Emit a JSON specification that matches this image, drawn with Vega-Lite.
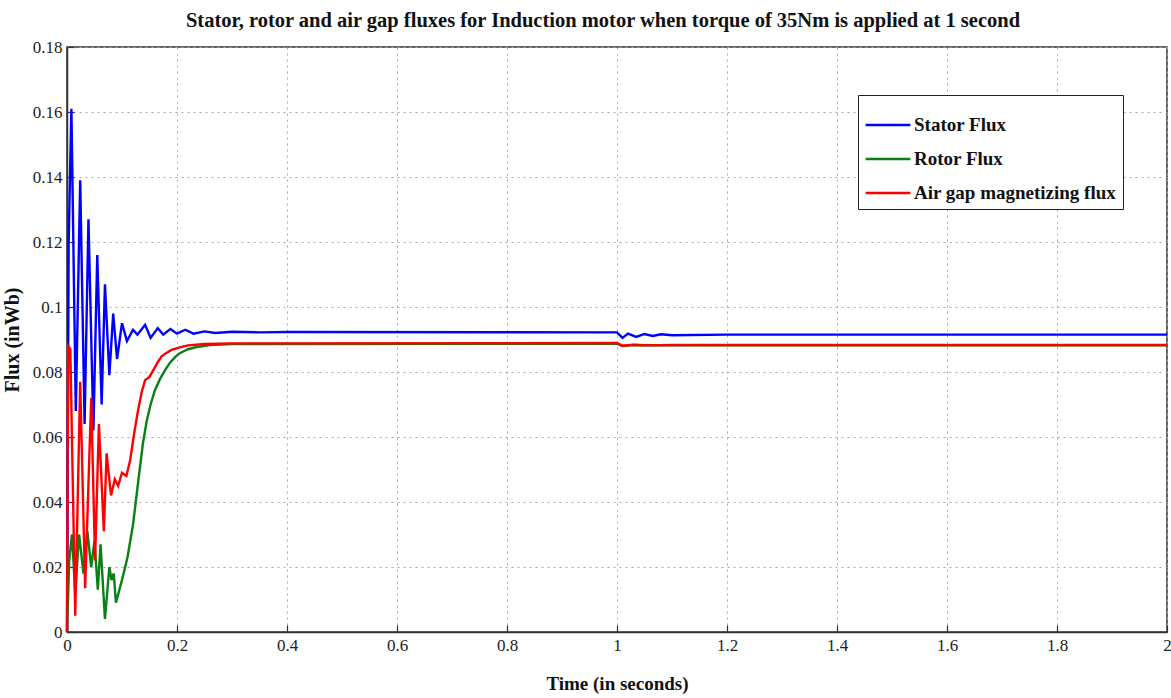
{
  "$schema": "https://vega.github.io/schema/vega-lite/v6.json",
  "width": 1100,
  "height": 585,
  "autosize": {"type": "none"},
  "padding": {"left": 67, "top": 47, "right": 4, "bottom": 66},
  "background": "white",
  "title": {
    "text": "Stator, rotor and air gap fluxes for Induction motor when torque of 35Nm is applied at 1 second",
    "font": "Liberation Serif",
    "fontSize": 20.5,
    "fontWeight": "bold",
    "color": "#111",
    "offset": 7,
    "dx": -14
  },
  "config": {
    "view": {"stroke": "#333", "strokeWidth": 1.5},
    "axis": {
      "labelFont": "Liberation Serif",
      "labelFontSize": 17,
      "labelColor": "#222",
      "titleFont": "Liberation Serif",
      "titleFontSize": 19,
      "titleFontWeight": "bold",
      "titleColor": "#111",
      "grid": true,
      "gridColor": "#a8a8a8",
      "gridDash": [2, 4],
      "gridWidth": 1,
      "domainColor": "#333",
      "domainWidth": 1.5,
      "tickColor": "#333",
      "tickSize": -7,
      "tickWidth": 1.2
    }
  },
  "data": {
    "values": [
      {"series": "Stator Flux", "t": 0.0, "flux": 0.0},
      {"series": "Stator Flux", "t": 0.003, "flux": 0.12},
      {"series": "Stator Flux", "t": 0.008, "flux": 0.161},
      {"series": "Stator Flux", "t": 0.016, "flux": 0.068},
      {"series": "Stator Flux", "t": 0.024, "flux": 0.139},
      {"series": "Stator Flux", "t": 0.032, "flux": 0.064},
      {"series": "Stator Flux", "t": 0.039, "flux": 0.127},
      {"series": "Stator Flux", "t": 0.048, "flux": 0.062},
      {"series": "Stator Flux", "t": 0.055, "flux": 0.116},
      {"series": "Stator Flux", "t": 0.063, "flux": 0.07},
      {"series": "Stator Flux", "t": 0.069, "flux": 0.107},
      {"series": "Stator Flux", "t": 0.077, "flux": 0.079},
      {"series": "Stator Flux", "t": 0.084, "flux": 0.098},
      {"series": "Stator Flux", "t": 0.091, "flux": 0.084},
      {"series": "Stator Flux", "t": 0.1, "flux": 0.095},
      {"series": "Stator Flux", "t": 0.109, "flux": 0.0895},
      {"series": "Stator Flux", "t": 0.12, "flux": 0.093},
      {"series": "Stator Flux", "t": 0.128, "flux": 0.0915},
      {"series": "Stator Flux", "t": 0.142, "flux": 0.0945},
      {"series": "Stator Flux", "t": 0.152, "flux": 0.0905},
      {"series": "Stator Flux", "t": 0.165, "flux": 0.0935},
      {"series": "Stator Flux", "t": 0.175, "flux": 0.0915},
      {"series": "Stator Flux", "t": 0.188, "flux": 0.0932},
      {"series": "Stator Flux", "t": 0.2, "flux": 0.0918},
      {"series": "Stator Flux", "t": 0.215, "flux": 0.093},
      {"series": "Stator Flux", "t": 0.23, "flux": 0.0918},
      {"series": "Stator Flux", "t": 0.25, "flux": 0.0925},
      {"series": "Stator Flux", "t": 0.27, "flux": 0.092},
      {"series": "Stator Flux", "t": 0.3, "flux": 0.0924},
      {"series": "Stator Flux", "t": 0.35, "flux": 0.0922},
      {"series": "Stator Flux", "t": 0.4, "flux": 0.0923},
      {"series": "Stator Flux", "t": 1.0, "flux": 0.0922},
      {"series": "Stator Flux", "t": 1.01, "flux": 0.0905},
      {"series": "Stator Flux", "t": 1.02, "flux": 0.0918},
      {"series": "Stator Flux", "t": 1.035, "flux": 0.0908},
      {"series": "Stator Flux", "t": 1.05, "flux": 0.0917},
      {"series": "Stator Flux", "t": 1.065, "flux": 0.0911},
      {"series": "Stator Flux", "t": 1.08, "flux": 0.0916},
      {"series": "Stator Flux", "t": 1.1, "flux": 0.0913},
      {"series": "Stator Flux", "t": 1.2, "flux": 0.0915},
      {"series": "Stator Flux", "t": 2.0, "flux": 0.0915},

      {"series": "Rotor Flux", "t": 0.0, "flux": 0.0},
      {"series": "Rotor Flux", "t": 0.004, "flux": 0.022},
      {"series": "Rotor Flux", "t": 0.009, "flux": 0.03},
      {"series": "Rotor Flux", "t": 0.015, "flux": 0.012},
      {"series": "Rotor Flux", "t": 0.022, "flux": 0.03},
      {"series": "Rotor Flux", "t": 0.03, "flux": 0.018},
      {"series": "Rotor Flux", "t": 0.037, "flux": 0.031},
      {"series": "Rotor Flux", "t": 0.044, "flux": 0.02},
      {"series": "Rotor Flux", "t": 0.05, "flux": 0.028},
      {"series": "Rotor Flux", "t": 0.056, "flux": 0.013},
      {"series": "Rotor Flux", "t": 0.061, "flux": 0.027},
      {"series": "Rotor Flux", "t": 0.069, "flux": 0.004},
      {"series": "Rotor Flux", "t": 0.077, "flux": 0.02},
      {"series": "Rotor Flux", "t": 0.081, "flux": 0.016},
      {"series": "Rotor Flux", "t": 0.085, "flux": 0.018},
      {"series": "Rotor Flux", "t": 0.089, "flux": 0.009},
      {"series": "Rotor Flux", "t": 0.1, "flux": 0.016},
      {"series": "Rotor Flux", "t": 0.11, "flux": 0.023},
      {"series": "Rotor Flux", "t": 0.12, "flux": 0.033},
      {"series": "Rotor Flux", "t": 0.13, "flux": 0.047},
      {"series": "Rotor Flux", "t": 0.138, "flux": 0.058},
      {"series": "Rotor Flux", "t": 0.145, "flux": 0.065},
      {"series": "Rotor Flux", "t": 0.152, "flux": 0.07},
      {"series": "Rotor Flux", "t": 0.16, "flux": 0.0745},
      {"series": "Rotor Flux", "t": 0.169, "flux": 0.0778},
      {"series": "Rotor Flux", "t": 0.178, "flux": 0.0805},
      {"series": "Rotor Flux", "t": 0.187, "flux": 0.0828},
      {"series": "Rotor Flux", "t": 0.196, "flux": 0.0845},
      {"series": "Rotor Flux", "t": 0.205, "flux": 0.0858},
      {"series": "Rotor Flux", "t": 0.22, "flux": 0.087},
      {"series": "Rotor Flux", "t": 0.236, "flux": 0.0877},
      {"series": "Rotor Flux", "t": 0.26, "flux": 0.0883},
      {"series": "Rotor Flux", "t": 0.3, "flux": 0.0886},
      {"series": "Rotor Flux", "t": 1.0, "flux": 0.0887},
      {"series": "Rotor Flux", "t": 1.01, "flux": 0.088},
      {"series": "Rotor Flux", "t": 1.03, "flux": 0.0883},
      {"series": "Rotor Flux", "t": 1.1, "flux": 0.0882},
      {"series": "Rotor Flux", "t": 2.0, "flux": 0.0882},

      {"series": "Air gap magnetizing flux", "t": 0.0, "flux": 0.0},
      {"series": "Air gap magnetizing flux", "t": 0.002, "flux": 0.088},
      {"series": "Air gap magnetizing flux", "t": 0.006, "flux": 0.087},
      {"series": "Air gap magnetizing flux", "t": 0.015, "flux": 0.005},
      {"series": "Air gap magnetizing flux", "t": 0.024, "flux": 0.077},
      {"series": "Air gap magnetizing flux", "t": 0.033, "flux": 0.0135},
      {"series": "Air gap magnetizing flux", "t": 0.044, "flux": 0.072},
      {"series": "Air gap magnetizing flux", "t": 0.051, "flux": 0.022},
      {"series": "Air gap magnetizing flux", "t": 0.058, "flux": 0.064},
      {"series": "Air gap magnetizing flux", "t": 0.067, "flux": 0.031},
      {"series": "Air gap magnetizing flux", "t": 0.072, "flux": 0.055},
      {"series": "Air gap magnetizing flux", "t": 0.08, "flux": 0.042},
      {"series": "Air gap magnetizing flux", "t": 0.087, "flux": 0.047},
      {"series": "Air gap magnetizing flux", "t": 0.093, "flux": 0.045},
      {"series": "Air gap magnetizing flux", "t": 0.1, "flux": 0.049},
      {"series": "Air gap magnetizing flux", "t": 0.108, "flux": 0.048},
      {"series": "Air gap magnetizing flux", "t": 0.115, "flux": 0.053},
      {"series": "Air gap magnetizing flux", "t": 0.122, "flux": 0.061},
      {"series": "Air gap magnetizing flux", "t": 0.129, "flux": 0.068},
      {"series": "Air gap magnetizing flux", "t": 0.136, "flux": 0.074},
      {"series": "Air gap magnetizing flux", "t": 0.142, "flux": 0.0775},
      {"series": "Air gap magnetizing flux", "t": 0.15, "flux": 0.0785},
      {"series": "Air gap magnetizing flux", "t": 0.157, "flux": 0.0806},
      {"series": "Air gap magnetizing flux", "t": 0.165, "flux": 0.083},
      {"series": "Air gap magnetizing flux", "t": 0.172, "flux": 0.0848},
      {"series": "Air gap magnetizing flux", "t": 0.18, "flux": 0.0858},
      {"series": "Air gap magnetizing flux", "t": 0.19, "flux": 0.0868},
      {"series": "Air gap magnetizing flux", "t": 0.205, "flux": 0.0876},
      {"series": "Air gap magnetizing flux", "t": 0.22, "flux": 0.0882},
      {"series": "Air gap magnetizing flux", "t": 0.25, "flux": 0.0886},
      {"series": "Air gap magnetizing flux", "t": 0.3, "flux": 0.0888},
      {"series": "Air gap magnetizing flux", "t": 1.0, "flux": 0.0889},
      {"series": "Air gap magnetizing flux", "t": 1.01, "flux": 0.0881},
      {"series": "Air gap magnetizing flux", "t": 1.03, "flux": 0.0884},
      {"series": "Air gap magnetizing flux", "t": 1.05, "flux": 0.0882},
      {"series": "Air gap magnetizing flux", "t": 1.1, "flux": 0.0883},
      {"series": "Air gap magnetizing flux", "t": 2.0, "flux": 0.0883}
    ]
  },
  "mark": {"type": "line", "strokeWidth": 2.4, "interpolate": "linear"},
  "encoding": {
    "x": {
      "field": "t",
      "type": "quantitative",
      "scale": {"domain": [0, 2], "nice": false, "zero": false},
      "axis": {
        "title": "Time (in seconds)",
        "values": [0, 0.2, 0.4, 0.6, 0.8, 1, 1.2, 1.4, 1.6, 1.8, 2],
        "format": "~g",
        "labelPadding": 12,
        "titlePadding": 21,
        "labelFlush": false
      }
    },
    "y": {
      "field": "flux",
      "type": "quantitative",
      "scale": {"domain": [0, 0.18], "nice": false},
      "axis": {
        "title": "Flux (inWb)",
        "titleFontSize": 20,
        "values": [0, 0.02, 0.04, 0.06, 0.08, 0.1, 0.12, 0.14, 0.16, 0.18],
        "format": "~g",
        "labelPadding": 12,
        "titlePadding": 10,
        "labelFlush": false
      }
    },
    "color": {
      "field": "series",
      "type": "nominal",
      "sort": ["Stator Flux", "Rotor Flux", "Air gap magnetizing flux"],
      "scale": {
        "domain": ["Stator Flux", "Rotor Flux", "Air gap magnetizing flux"],
        "range": ["#0000ff", "#0a7f14", "#ff0000"]
      },
      "legend": {
        "title": null,
        "orient": "none",
        "legendX": 791,
        "legendY": 48,
        "fillColor": "white",
        "strokeColor": "#222",
        "padding": 6,
        "symbolType": "stroke",
        "symbolSize": 2000,
        "symbolStrokeWidth": 2.5,
        "labelFont": "Liberation Serif",
        "labelFontSize": 19,
        "labelFontWeight": "bold",
        "labelColor": "#111",
        "labelOffset": 2,
        "rowPadding": -4,
        "labelLimit": 400
      }
    }
  }
}
